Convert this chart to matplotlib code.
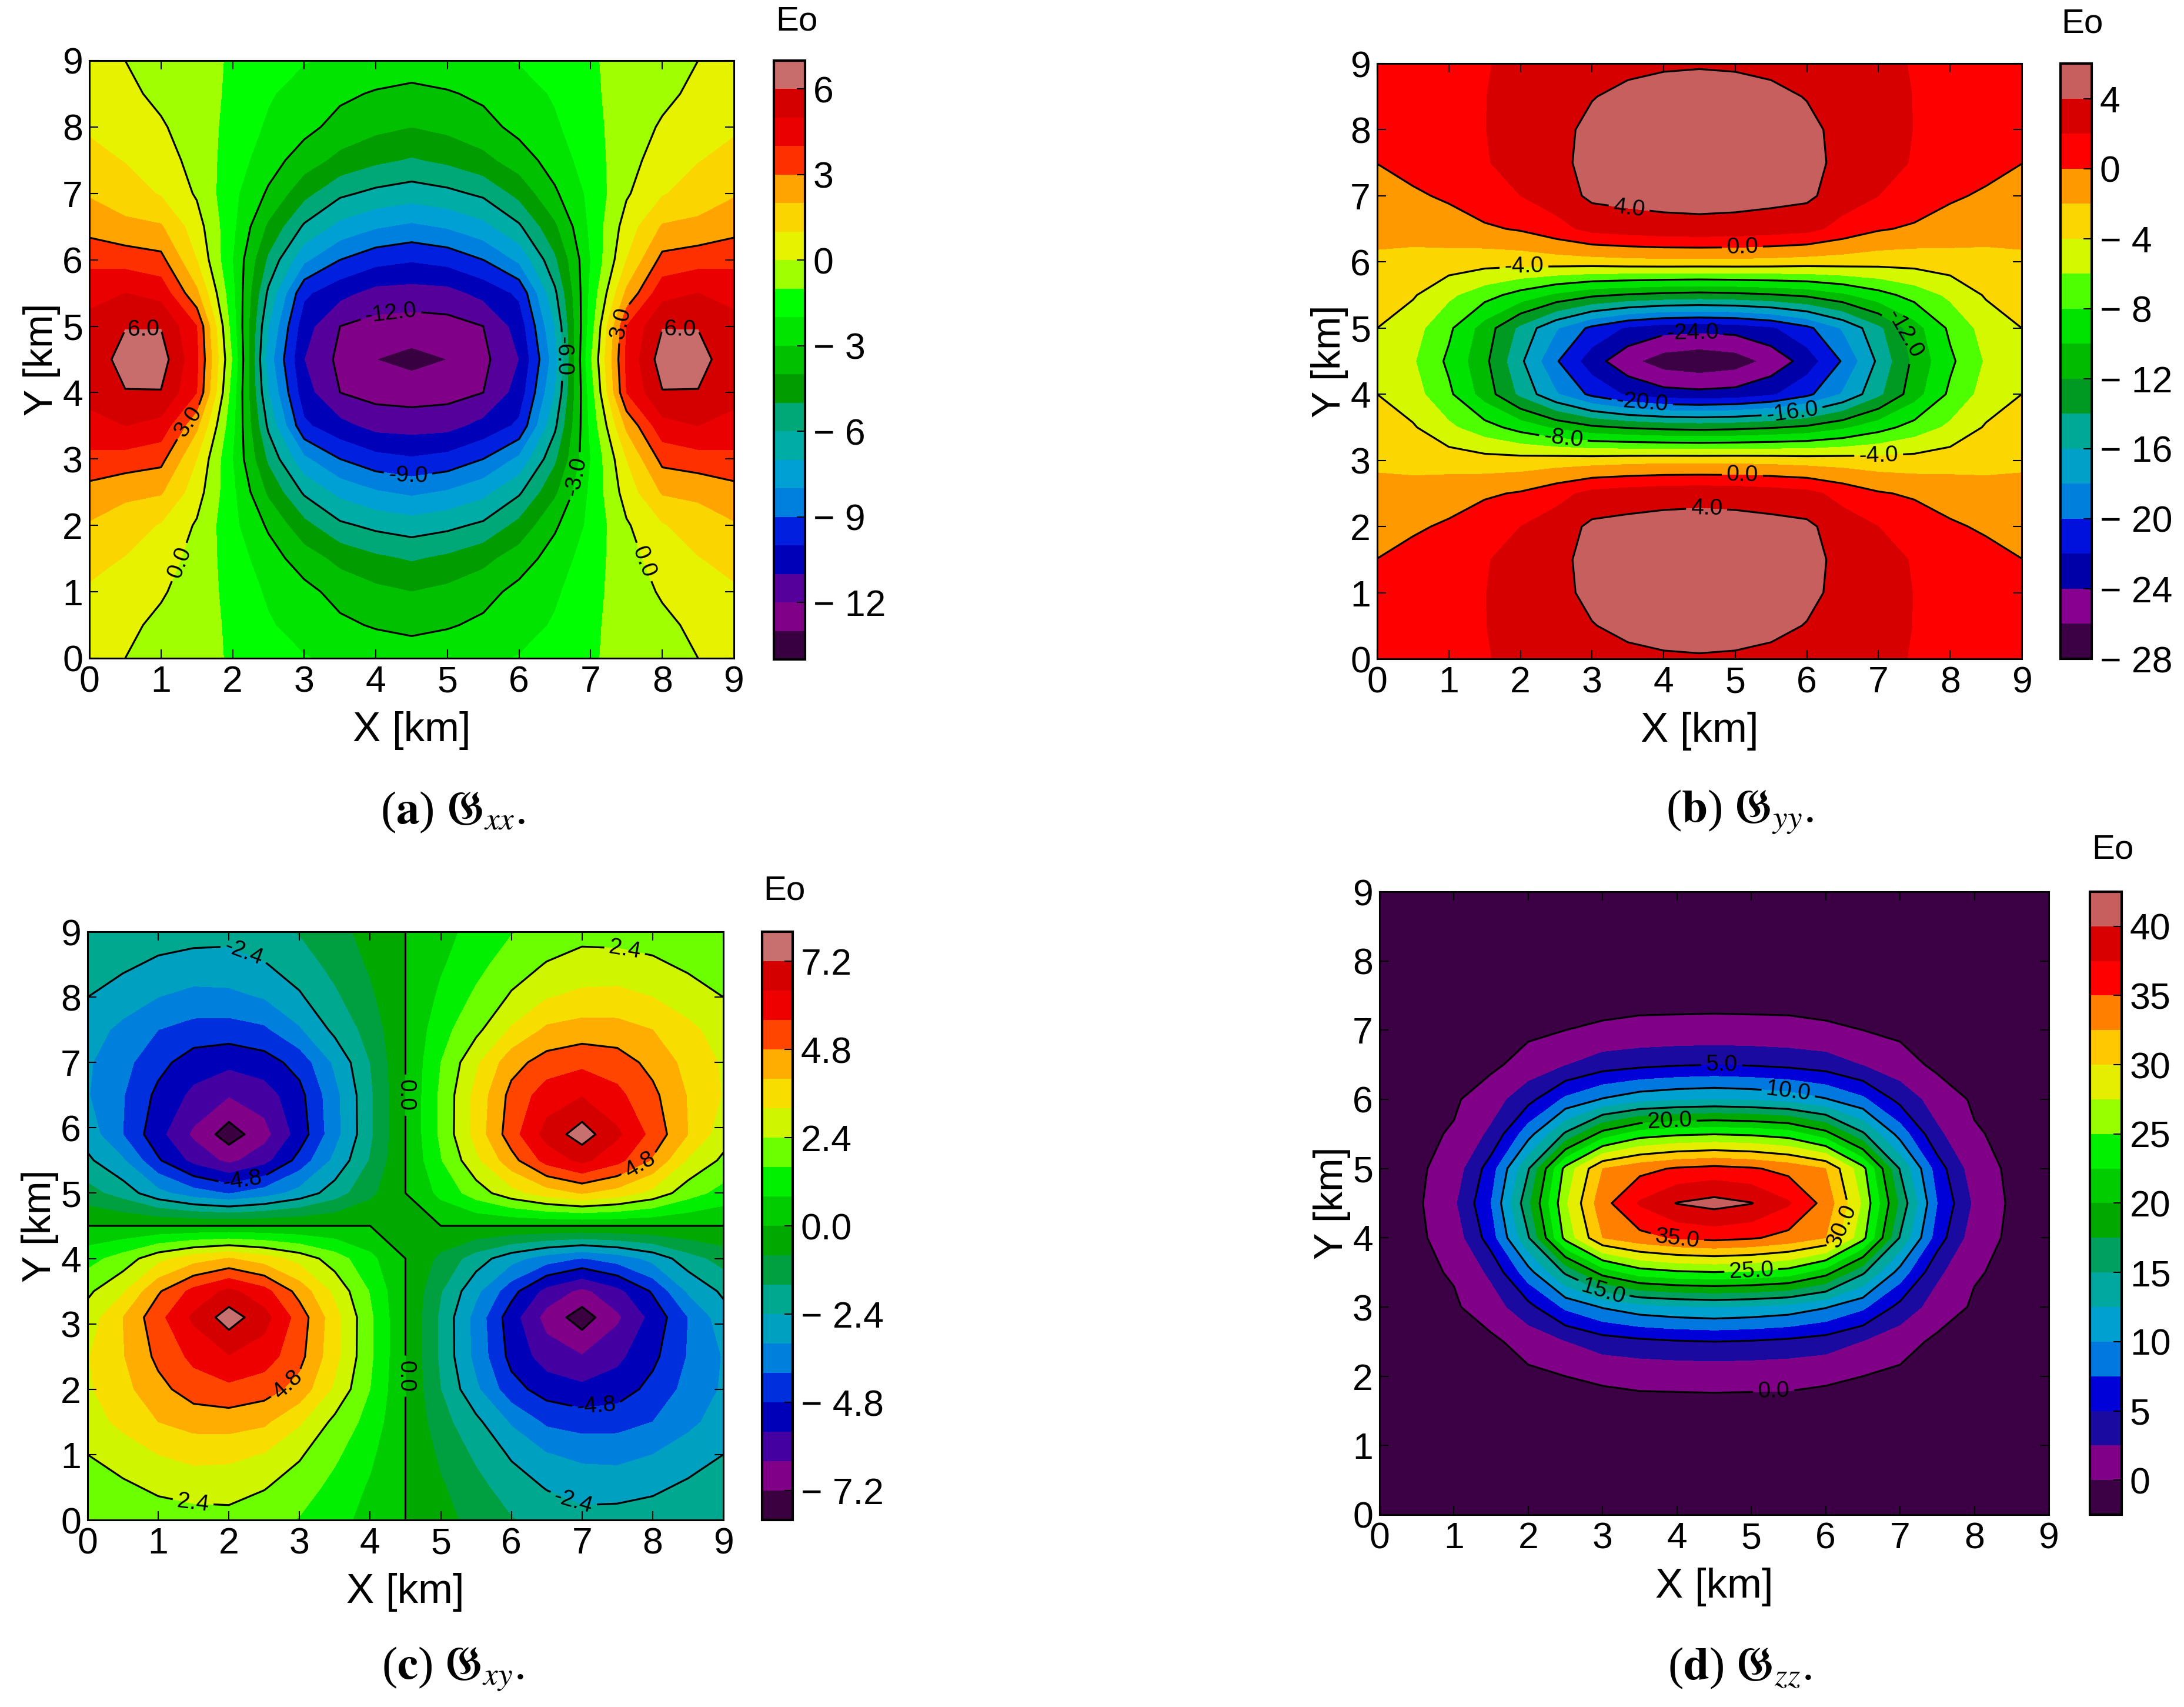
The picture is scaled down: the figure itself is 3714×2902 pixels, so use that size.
import numpy as np
import matplotlib
matplotlib.use('Agg')
import matplotlib.pyplot as plt
from matplotlib.colors import ListedColormap, BoundaryNorm

plt.rcParams['font.family'] = ['Liberation Sans', 'DejaVu Sans']
plt.rcParams['mathtext.fontset'] = 'stix'

W, H = 3714, 2902

# grid nodes of the lower left quarter, the fields repeat over x=4.5 and y=4.5
x_nodes = [0, 0.5, 1, 1.5, 2, 2.5, 3, 3.5, 4, 4.5]
y_nodes = [0, 0.5, 1, 1.5, 2, 2.5, 3, 3.5, 4, 4.5]
# the xy peaks sit a bit above y=3
c_y_nodes = [0, 0.5, 1, 1.5, 2, 2.5, 3.1, 3.5, 4, 4.5]

# values, rows go with the y nodes
gxx = [
    [0.35, 0.0, -0.35, -0.7, -1.1, -1.5, -1.95, -2.15, -2.3, -2.4],
    [0.55, 0.2, -0.2, -0.55, -1.2, -1.9, -2.4, -2.8, -3.1, -3.3],
    [0.85, 0.55, 0.1, -0.45, -1.35, -2.15, -2.7, -3.35, -3.75, -4.0],
    [1.35, 0.95, 0.45, -0.35, -1.5, -2.55, -3.5, -4.3, -4.8, -5.1],
    [1.9, 1.55, 0.9, -0.12, -1.75, -3.15, -4.7, -5.8, -6.25, -6.5],
    [2.65, 2.2, 2.1, 0.45, -1.8, -4.2, -6.15, -7.3, -7.9, -8.2],
    [3.7, 3.6, 3.3, 1.0, -2.0, -5.2, -7.8, -9.0, -9.65, -9.9],
    [4.8, 5.0, 4.65, 2.2, -1.75, -6.2, -9.8, -10.7, -11.35, -11.43],
    [5.2, 5.95, 5.95, 4.0, -1.5, -7.0, -10.6, -12.0, -12.35, -12.45],
    [5.35, 6.4, 6.5, 4.2, -1.1, -7.5, -11.0, -12.25, -13.0, -13.3],
]
gyy = [
    [1.0, 1.35, 1.65, 1.9, 2.4, 2.95, 3.4, 3.7, 3.85, 3.9],
    [0.7, 1.2, 1.65, 1.95, 2.8, 3.5, 3.95, 4.3, 4.45, 4.5],
    [0.35, 0.95, 1.55, 1.95, 2.95, 3.65, 4.3, 4.6, 4.7, 4.75],
    [0.02, 0.6, 1.25, 1.85, 2.75, 3.75, 4.3, 4.7, 4.85, 4.9],
    [-0.6, -0.25, 0.25, 1.3, 2.0, 3.0, 4.4, 4.6, 4.7, 4.75],
    [-1.5, -1.3, -0.8, -0.3, 0.2, 1.3, 2.6, 3.0, 3.3, 3.4],
    [-2.3, -2.6, -2.9, -3.2, -3.2, -3.0, -2.9, -2.7, -2.6, -2.6],
    [-3.2, -3.8, -5.6, -7.2, -8.8, -10.4, -11.6, -12.2, -12.6, -12.8],
    [-4.0, -5.2, -7.6, -10.9, -14.5, -17.8, -20.5, -22.3, -23.2, -23.4],
    [-4.6, -5.8, -8.4, -11.5, -15.6, -19.8, -23.1, -25.4, -27.0, -27.5],
]
gxy = [
    [1.7, 1.85, 2.0, 2.1, 2.15, 1.9, 1.55, 1.05, 0.55, 0],
    [2.0, 2.25, 2.55, 2.7, 2.7, 2.45, 2.0, 1.35, 0.7, 0],
    [2.4, 2.8, 3.2, 3.45, 3.4, 3.15, 2.5, 1.75, 0.95, 0],
    [2.85, 3.4, 4.0, 4.3, 4.35, 4.15, 3.3, 2.2, 1.3, 0],
    [3.1, 3.75, 4.55, 5.2, 5.4, 5.15, 4.5, 3.05, 1.6, 0],
    [3.15, 3.95, 5.0, 5.8, 6.35, 6.0, 5.05, 3.45, 1.75, 0],
    [2.75, 4.0, 5.35, 6.55, 7.6, 6.7, 5.25, 3.5, 1.75, 0],
    [2.25, 3.1, 4.7, 5.85, 6.6, 5.9, 4.5, 3.0, 1.55, 0],
    [1.3, 1.95, 2.95, 3.65, 4.05, 3.6, 2.9, 2.0, 1.0, 0],
    [0, 0, 0, 0, 0, 0, 0, 0, 0, 0],
]
gzz = [
    [-1.5, -1.5, -1.5, -1.45, -1.45, -1.4, -1.4, -1.4, -1.4, -1.4],
    [-1.4, -1.4, -1.4, -1.35, -1.35, -1.3, -1.3, -1.3, -1.3, -1.3],
    [-1.2, -1.2, -1.2, -1.15, -1.15, -1.1, -1.1, -1.1, -1.1, -1.1],
    [-1.0, -1.0, -0.95, -0.85, -0.75, -0.7, -0.65, -0.6, -0.6, -0.6],
    [-1.0, -1.0, -0.9, -0.7, -0.45, 0.0, 0.25, 0.45, 0.5, 0.55],
    [-0.95, -0.9, -0.7, -0.45, 0.9, 2.4, 3.8, 4.4, 4.8, 5.0],
    [-0.9, -0.7, -0.3, 1.25, 4.2, 8.0, 10.2, 11.6, 12.2, 12.5],
    [-0.85, -0.5, 0.2, 3.0, 9.0, 15.4, 21.0, 23.8, 24.6, 24.9],
    [-0.8, -0.4, 1.0, 6.3, 14.8, 25.8, 32.5, 34.2, 35.3, 35.8],
    [-0.9, -0.4, 2.0, 7.5, 16.9, 27.1, 34.1, 37.8, 40.1, 40.9],
]

# filled bands and contour lines
a_levels = [-14, -13, -12, -11, -10, -9, -8, -7, -6, -5, -4, -3, -2, -1, 0, 1, 2, 3, 4, 5, 6, 7]
b_levels = [-28, -26, -24, -22, -20, -18, -16, -14, -12, -10, -8, -6, -4, -2, 0, 2, 4, 6]
c_levels = [-8.0, -7.2, -6.4, -5.6, -4.8, -4.0, -3.2, -2.4, -1.6, -0.8, 0.0, 0.8, 1.6, 2.4, 3.2, 4.0, 4.8, 5.6, 6.4, 7.2, 8.0]
d_levels = [-2.5, 0, 2.5, 5, 7.5, 10, 12.5, 15, 17.5, 20, 22.5, 25, 27.5, 30, 32.5, 35, 37.5, 40, 42.5]

a_lines = [-12, -9, -6, -3, 0, 3, 6]
b_lines = [-24, -20, -16, -12, -8, -4, 0, 4]
c_lines = [-7.2, -4.8, -2.4, 0.0, 2.4, 4.8, 7.2]
d_lines = [0, 5, 10, 15, 20, 25, 30, 35, 40]

a_ticks = [-12, -9, -6, -3, 0, 3, 6]
b_ticks = [-28, -24, -20, -16, -12, -8, -4, 0, 4]
c_ticks = [-7.2, -4.8, -2.4, 0.0, 2.4, 4.8, 7.2]
d_ticks = [0, 5, 10, 15, 20, 25, 30, 35, 40]

# colours from the lowest band to the highest
a_colors = ['#380040', '#800088', '#55009a', '#0000b8', '#001fdf', '#0080de', '#009fd4', '#00aca6', '#00a878',
            '#009c00', '#00c000', '#00e400', '#00ff00', '#a0ff00', '#e6f200', '#fbd500', '#ffa400', '#ff3000',
            '#ea0000', '#d40000', '#c96c6c']
b_colors = ['#3c0044', '#880090', '#0000a8', '#0010dd', '#0080dd', '#00a0c8', '#00a896', '#009a22', '#00bb00',
            '#00e200', '#4dff00', '#d4f800', '#fbd600', '#ff9900', '#ff0000', '#d60000', '#c85f5f']
c_colors = ['#3a0040', '#800088', '#4400a0', '#0000b8', '#0030dd', '#0080dd', '#00a0c0', '#00a890', '#00a040',
            '#00a800', '#00cc00', '#00f000', '#6cff00', '#cff500', '#f8dd00', '#ffad00', '#ff4500', '#ee0000',
            '#d40000', '#c87070']
d_colors = ['#3c0044', '#800088', '#1a0aa0', '#0000d8', '#0078e0', '#00a0d0', '#00a8a0', '#00a060', '#00a800',
            '#00cc00', '#00f000', '#98ff00', '#e6ee00', '#ffc800', '#ff8000', '#ff0000', '#d80000', '#c85f5f']

# where the inline labels sit
a_labels = [(0.75, 5.0), (1.45, 3.5), (1.25, 1.45), (7.75, 1.45), (7.55, 5.0), (8.25, 5.0),
            (4.2, 5.3), (4.45, 2.75), (6.7, 4.55), (6.75, 2.75)]
b_labels = [(3.5, 6.65), (5.1, 6.18), (2.05, 5.88), (7.3, 4.9), (4.4, 4.95), (3.7, 3.87),
            (5.8, 3.67), (2.6, 3.35), (7.0, 3.12), (5.1, 2.82), (4.6, 2.3)]
c_labels = [(2.2, 8.65), (7.6, 8.7), (4.5, 6.5), (2.2, 5.15), (7.9, 5.25), (2.8, 2.1),
            (4.5, 2.2), (7.2, 1.75), (1.5, 0.3), (6.9, 0.35)]
d_labels = [(4.6, 6.5), (5.5, 6.14), (3.9, 5.69), (4.0, 3.93), (6.1, 4.2), (5.0, 3.51),
            (3.0, 3.2), (5.3, 1.78)]


def full_grid(quarter, sign=1):
    q = np.array(quarter, dtype=float)
    lower = np.hstack([q, sign * q[:, -2::-1]])
    return np.vstack([lower, sign * lower[-2::-1, :]])


def full_nodes(nodes):
    return np.concatenate([nodes, 9 - np.array(nodes[-2::-1])])


def box(left, top, right, bottom):
    return [left / W, 1 - bottom / H, (right - left) / W, (bottom - top) / H]


def minus_label(v, fmt):
    text = fmt % abs(v)
    return '\u2212 ' + text if v < 0 else text


xs = full_nodes(x_nodes)

panels = [
    (full_grid(gxx), y_nodes, a_levels, a_lines, a_ticks, a_colors, a_labels, '%d',
     (152, 103, 1248, 1119), (1316, 103, 1369, 1121), (1355, 36),
     r'($\mathbf{a}$) $\mathfrak{G}_{xx}$.', (770, 1381)),
    (full_grid(gyy), y_nodes, b_levels, b_lines, b_ticks, b_colors, b_labels, '%d',
     (2342, 108, 3438, 1120), (3504, 108, 3557, 1120), (3541, 40),
     r'($\mathbf{b}$) $\mathfrak{G}_{yy}$.', (2958, 1381)),
    (full_grid(gxy, -1), c_y_nodes, c_levels, c_lines, c_ticks, c_colors, c_labels, '%.1f',
     (149, 1584, 1230, 2584), (1296, 1584, 1348, 2584), (1334, 1514),
     r'($\mathbf{c}$) $\mathfrak{G}_{xy}$.', (770, 2838)),
    (full_grid(gzz), y_nodes, d_levels, d_lines, d_ticks, d_colors, d_labels, '%d',
     (2346, 1516, 3484, 2575), (3554, 1516, 3608, 2575), (3593, 1445),
     r'($\mathbf{d}$) $\mathfrak{G}_{zz}$.', (2958, 2836)),
]

fig = plt.figure(figsize=(W / 100, H / 100), dpi=100)

for z, ynodes, levels, lines, ticks, colors, labels, fmt, ax_box, cb_box, eo_pos, caption, cap_pos in panels:
    ax = fig.add_axes(box(*ax_box))
    ys = full_nodes(ynodes)
    cmap = ListedColormap(colors)
    norm = BoundaryNorm(levels, cmap.N)
    cf = ax.contourf(xs, ys, z, levels=levels, cmap=cmap, norm=norm)
    cs = ax.contour(xs, ys, z, levels=lines, colors='k', linewidths=2.3, negative_linestyles='solid')
    ax.clabel(cs, manual=labels, fmt='%.1f', fontsize=28, inline=True, inline_spacing=8)
    ax.set_xlim(0, 9)
    ax.set_ylim(0, 9)
    ax.set_xticks(range(10))
    ax.set_yticks(range(10))
    ax.tick_params(direction='in', top=True, right=True, length=11, width=1.5, labelsize=45, pad=8)
    ax.set_xlabel('X [km]', fontsize=51, labelpad=14)
    ax.set_ylabel('Y [km]', fontsize=49, labelpad=2)
    for spine in ax.spines.values():
        spine.set_linewidth(2.2)

    cax = fig.add_axes(box(*cb_box))
    cbar = fig.colorbar(cf, cax=cax, spacing='proportional')
    cbar.set_ticks(ticks, labels=[minus_label(v, fmt) for v in ticks])
    cax.tick_params(direction='in', right=True, length=10, width=1.5, labelsize=45, pad=10)
    cax.minorticks_off()
    cbar.outline.set_linewidth(3)

    fig.text(eo_pos[0] / W, 1 - eo_pos[1] / H, 'Eo', fontsize=42, ha='center', va='center')
    fig.text(cap_pos[0] / W, 1 - cap_pos[1] / H, caption, fontsize=57, ha='center', va='center',
             family='Liberation Serif')

fig.savefig('out.png', dpi=100)
